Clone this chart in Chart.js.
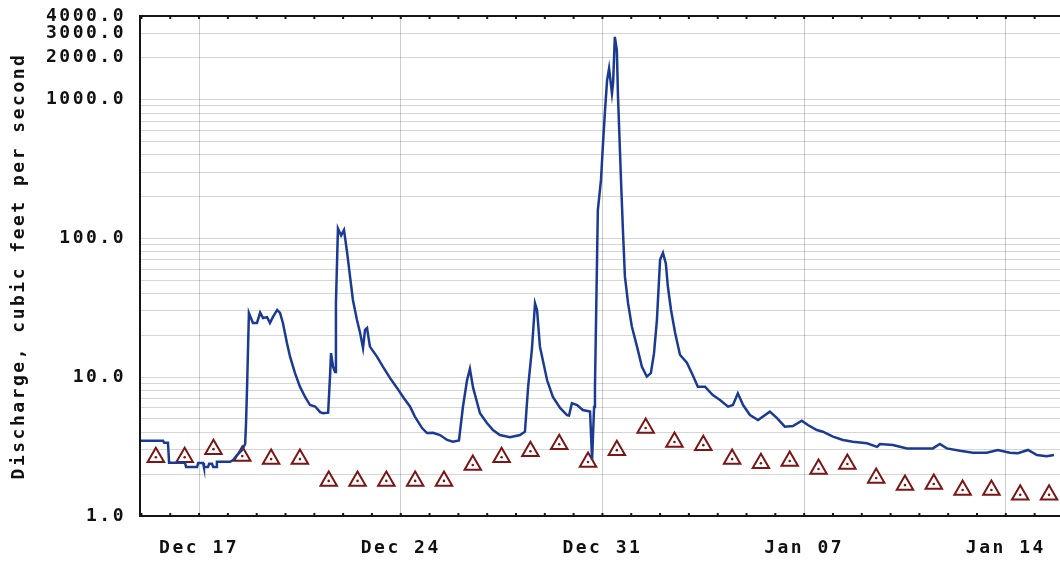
<!DOCTYPE html>
<html>
<head>
<meta charset="utf-8">
<script src="https://cdn.jsdelivr.net/npm/chart.js@4.4.1/dist/chart.umd.min.js"></script>
<style>
  html, body { margin: 0; padding: 0; background: #fff; }
</style>
</head>
<body>
<canvas id="flowChart" width="1060" height="565"></canvas>
<script>
// time axis = days counted from Dec 15 00:00
const flowDays = [
  -0.05, 0.75, 0.79, 0.92, 0.96, 1.51, 1.55, 1.93, 1.97, 2.14, 2.17, 2.31, 2.35, 2.45, 2.49, 2.59,
  2.62, 3.08, 3.18, 3.32, 3.49, 3.60, 3.63, 3.67, 3.73, 3.87, 4.01, 4.12, 4.22, 4.36, 4.46, 4.57,
  4.71, 4.81, 4.91, 5.05, 5.16, 5.33, 5.50, 5.68, 5.85, 6.03, 6.20, 6.30, 6.48, 6.55, 6.58, 6.65,
  6.72, 6.75, 6.82, 6.93, 7.03, 7.14, 7.24, 7.34, 7.48, 7.59, 7.69, 7.76, 7.83, 7.93, 8.18, 8.38,
  8.63, 8.87, 9.08, 9.32, 9.49, 9.74, 9.91, 10.12, 10.36, 10.61, 10.81, 11.02, 11.16, 11.30, 11.40, 11.51,
  11.75, 11.99, 12.20, 12.44, 12.79, 13.14, 13.31, 13.42, 13.55, 13.66, 13.73, 13.83, 14.08, 14.28, 14.53, 14.77,
  14.84, 14.94, 15.12, 15.32, 15.57, 15.64, 15.71, 15.74, 15.81, 15.84, 15.95, 16.02, 16.09, 16.16, 16.23, 16.33,
  16.37, 16.43, 16.50, 16.54, 16.64, 16.71, 16.78, 16.89, 17.02, 17.20, 17.37, 17.54, 17.68, 17.79, 17.89, 18.00,
  18.10, 18.20, 18.27, 18.38, 18.52, 18.69, 18.93, 19.14, 19.31, 19.56, 19.83, 20.08, 20.36, 20.53, 20.70, 20.88,
  21.12, 21.40, 21.81, 22.06, 22.33, 22.61, 22.92, 23.13, 23.44, 23.65, 24.00, 24.35, 24.69, 25.18, 25.53, 25.63,
  26.08, 26.57, 27.02, 27.47, 27.71, 27.95, 28.41, 28.86, 29.34, 29.72, 30.14, 30.42, 30.77, 31.08, 31.42, 31.67
];
const flowCfs = [
  3.49, 3.49, 3.37, 3.37, 2.42, 2.42, 2.25, 2.25, 2.41, 2.41, 2.25, 2.25, 2.38, 2.38, 2.25, 2.25,
  2.46, 2.46, 2.53, 2.75, 2.99, 3.3, 4.67, 9.1, 29.0, 24.6, 24.6, 29.2, 26.7, 27.1, 24.6, 27.3,
  30.5, 29.0, 24.6, 17.6, 14.0, 10.7, 8.55, 7.2, 6.3, 6.15, 5.6, 5.5, 5.55, 10.7, 14.9, 11.9,
  10.9, 34, 118, 105, 115, 78.6, 53, 36, 25.8, 20.8, 16.2, 21.9, 22.6, 16.6, 14.0, 11.9,
  9.85, 8.37, 7.2, 6.15, 5.2, 4.3, 3.96, 3.98, 3.83, 3.53, 3.43, 3.50, 6.15, 9.5, 11.5, 8.4,
  5.5, 4.68, 4.16, 3.83, 3.7, 3.83, 4.05, 8.5, 15.7, 34.0, 30.5, 16.6, 9.5, 7.2, 6.0, 5.34,
  5.3, 6.5, 6.3, 5.8, 5.65, 2.53, 6.1, 8.5, 66.5, 160, 265, 485, 840, 1370, 1680, 1110,
  1320, 2830, 2270, 1050, 277, 115, 53, 34, 23.2, 16.6, 11.9, 10.1, 10.7, 14.9, 25.8, 70,
  78.6, 66, 45, 30.5, 21, 14.5, 12.7, 10.3, 8.55, 8.55, 7.44, 6.85, 6.14, 6.3, 7.65, 6.3,
  5.34, 4.92, 5.65, 5.07, 4.4, 4.45, 4.86, 4.52, 4.16, 4.05, 3.73, 3.53, 3.43, 3.34, 3.15, 3.3,
  3.25, 3.07, 3.07, 3.07, 3.30, 3.07, 2.95, 2.86, 2.86, 2.99, 2.86, 2.83, 2.99, 2.75, 2.70, 2.75
];

// daily median of daily mean discharge, plotted at noon
const medianDays = [
  0.5, 1.5, 2.5, 3.5, 4.5, 5.5, 6.5, 7.5, 8.5, 9.5, 10.5, 11.5, 12.5, 13.5, 14.5, 15.5,
  16.5, 17.5, 18.5, 19.5, 20.5, 21.5, 22.5, 23.5, 24.5, 25.5, 26.5, 27.5, 28.5, 29.5, 30.5, 31.5
];
const medianCfs = [
  2.65, 2.65, 3.03, 2.70, 2.57, 2.57, 1.79, 1.79, 1.79, 1.79, 1.79, 2.33, 2.65, 2.93, 3.29, 2.45,
  2.98, 4.30, 3.41, 3.24, 2.57, 2.40, 2.49, 2.18, 2.37, 1.88, 1.67, 1.70, 1.54, 1.54, 1.42, 1.42
];

const dayTicks = [2, 9, 16, 23, 30];
const dayLabels = ['Dec 17', 'Dec 24', 'Dec 31', 'Jan 07', 'Jan 14'];
const cfsTicks = [
  1, 2, 3, 4, 5, 6, 7, 8, 9,
  10, 20, 30, 40, 50, 60, 70, 80, 90,
  100, 200, 300, 400, 500, 600, 700, 800, 900,
  1000, 2000, 3000, 4000
];
const cfsLabelled = [1, 10, 100, 1000, 2000, 3000, 4000];

const ctx = document.getElementById('flowChart').getContext('2d');

const monoFont = { family: "'DejaVu Sans Mono', monospace", weight: 'bold', size: 18 };
const spacing = '2.5px';

const frameAndDays = {
  id: 'frameAndDays',
  beforeUpdate(chart) { chart.ctx.letterSpacing = spacing; },
  // the original plot runs off the right edge of the picture
  afterLayout(chart) {
    const {chartArea, scales: {x}} = chart;
    chartArea.right = chart.width;
    chartArea.width = chartArea.right - chartArea.left;
    x.right = chart.width;
    x.width = x.right - x.left;
    x.configure();
  },
  beforeDraw(chart) { chart.ctx.letterSpacing = spacing; },
  afterDatasetsDraw(chart) {
    const {ctx, chartArea: {left, top, right, bottom}, scales: {x}} = chart;
    ctx.save();
    ctx.strokeStyle = '#151515';
    ctx.lineWidth = 2;
    ctx.beginPath();
    ctx.moveTo(right, top);
    ctx.lineTo(left, top);
    ctx.lineTo(left, bottom);
    ctx.lineTo(right, bottom);
    ctx.stroke();
    // little day marks on top and bottom edges
    ctx.beginPath();
    for (let d = Math.ceil(x.min); d <= x.max; d++) {
      const px = x.getPixelForValue(d);
      ctx.moveTo(px, bottom);
      ctx.lineTo(px, bottom - 3);
      ctx.moveTo(px, top);
      ctx.lineTo(px, top + 3);
    }
    ctx.stroke();
    ctx.restore();
  }
};

new Chart(ctx, {
  type: 'line',
  data: {
    datasets: [
      {
        label: 'Discharge',
        data: flowDays.map((d, i) => ({ x: d, y: flowCfs[i] })),
        borderColor: '#1b3a94',
        borderWidth: 2.5,
        pointRadius: 0,
        tension: 0,
        order: 0
      },
      {
        label: 'Median daily statistic',
        data: medianDays.map((d, i) => ({ x: d, y: medianCfs[i] })),
        showLine: false,
        pointStyle: 'triangle',
        pointRadius: 9.5,
        pointBorderWidth: 2,
        pointBorderColor: '#7a1616',
        pointBackgroundColor: '#ffffff',
        order: 2
      },
      {
        label: 'median dot',
        data: medianDays.map((d, i) => ({ x: d, y: medianCfs[i] })),
        showLine: false,
        pointRadius: 1.3,
        pointBorderWidth: 0,
        pointBackgroundColor: '#7a1616',
        order: 1
      }
    ]
  },
  options: {
    responsive: false,
    animation: false,
    devicePixelRatio: 1,
    layout: { padding: { top: 16, right: 0, bottom: 0, left: 0 } },
    plugins: {
      legend: { display: false },
      tooltip: { enabled: false }
    },
    scales: {
      x: {
        type: 'linear',
        min: -0.05,
        max: 31.88,
        offset: false,
        border: { display: false },
        grid: {
          color: 'rgba(0,0,0,0.2)',
          lineWidth: 1,
          drawTicks: true,
          tickLength: 22,
          tickColor: 'rgba(0,0,0,0)'
        },
        afterBuildTicks(s) { s.ticks = dayTicks.map(v => ({ value: v })); },
        afterFit(s) { s.height = 49; },
        ticks: {
          autoSkip: false,
          maxRotation: 0,
          padding: 0,
          color: '#111',
          font: monoFont,
          callback: (v) => dayLabels[dayTicks.indexOf(v)]
        }
      },
      y: {
        type: 'logarithmic',
        min: 1,
        max: 4000,
        border: { display: false },
        grid: { color: 'rgba(0,0,0,0.16)', lineWidth: 1, drawTicks: false },
        afterBuildTicks(s) { s.ticks = cfsTicks.map(v => ({ value: v })); },
        afterFit(s) {
          s.width = 140;
          s.paddingTop = 0;
          s.paddingBottom = 0;
        },
        title: {
          display: true,
          text: 'Discharge, cubic feet per second',
          color: '#111',
          font: monoFont,
          padding: { top: 9, bottom: 0 }
        },
        ticks: {
          autoSkip: false,
          padding: 14,
          color: '#111',
          font: monoFont,
          callback: (v) => cfsLabelled.includes(v) ? v.toFixed(1) : ''
        }
      }
    }
  },
  plugins: [frameAndDays]
});
</script>
</body>
</html>
